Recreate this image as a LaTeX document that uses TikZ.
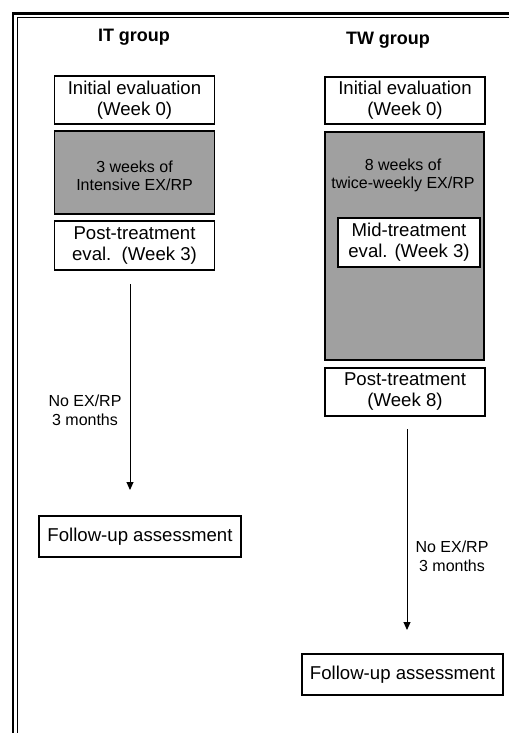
\documentclass[tikz,border=0pt]{standalone}
\usepackage{fontspec}
\setmainfont{Liberation Sans}
\usetikzlibrary{arrows.meta}
\definecolor{boxgray}{RGB}{160,160,160}
\begin{document}
\begin{tikzpicture}[x=1pt,y=-1pt,
  box/.style={draw=black,line width=1.2pt,fill=white,inner sep=0pt,align=center,
    font=\fontsize{18.6}{21}\selectfont},
  graybox/.style={draw=black,line width=1.2pt,fill=boxgray,inner sep=0pt},
  graytext/.style={align=center,inner sep=0pt,font=\fontsize{16}{18.5}\selectfont},
  lbl/.style={align=center,inner sep=0pt,font=\fontsize{16}{19}\selectfont},
  title/.style={inner sep=0pt,font=\fontsize{18}{21}\selectfont\bfseries},
  flow/.style={line width=1pt,-{Triangle[length=8pt,width=7pt]}}]
\useasboundingbox (0,0) rectangle (509,733);
\fill[white] (0,0) rectangle (509,733);
% frame
\draw[line width=2.4pt] (13,733) -- (13,13.5) -- (509,13.5);
\draw[line width=0.9pt] (17,733) -- (17,17.5) -- (509,17.5);
% IT group
\node[title] (ittitle) at (134,37) {IT group};
\node[box,minimum width=160,minimum height=48] (itinit) at (134.5,100) {Initial evaluation\\(Week 0)};
\node[graybox,minimum width=160,minimum height=83] (itgray) at (134.5,172.5) {};
\node[graytext] (itgraytext) at (134.5,176) {3 weeks of\\Intensive EX/RP};
\node[box,minimum width=160,minimum height=49] (itpost) at (134.5,245.5) {Post-treatment\\eval.\ \ (Week 3)};
\coordinate (ita) at (130,284);
\coordinate (itb) at (130,490);
\draw[flow] (ita) -- (itb);
\node[lbl] (itlbl) at (85,410.5) {No EX/RP\\3 months};
\node[box,minimum width=202,minimum height=41] (itfollow) at (140,536.5) {Follow-up assessment};
% TW group
\node[title] (twtitle) at (388,40) {TW group};
\node[box,minimum width=160,minimum height=47] (twinit) at (405,100.5) {Initial evaluation\\(Week 0)};
\node[graybox,minimum width=159,minimum height=228] (twgray) at (404.5,246) {};
\node[graytext] (twgraytext) at (403,175.5) {8 weeks of\\twice-weekly EX/RP};
\node[box,minimum width=142,minimum height=49] (twmid) at (409,242.5) {Mid-treatment\\eval. (Week 3)};
\node[box,minimum width=160,minimum height=48] (twpost) at (405,392) {Post-treatment\\(Week 8)};
\coordinate (twa) at (407,429);
\coordinate (twb) at (407,630);
\draw[flow] (twa) -- (twb);
\node[lbl] (twlbl) at (452,556) {No EX/RP\\3 months};
\node[box,minimum width=201,minimum height=41] (twfollow) at (402.5,674.5) {Follow-up assessment};
\end{tikzpicture}
\end{document}
